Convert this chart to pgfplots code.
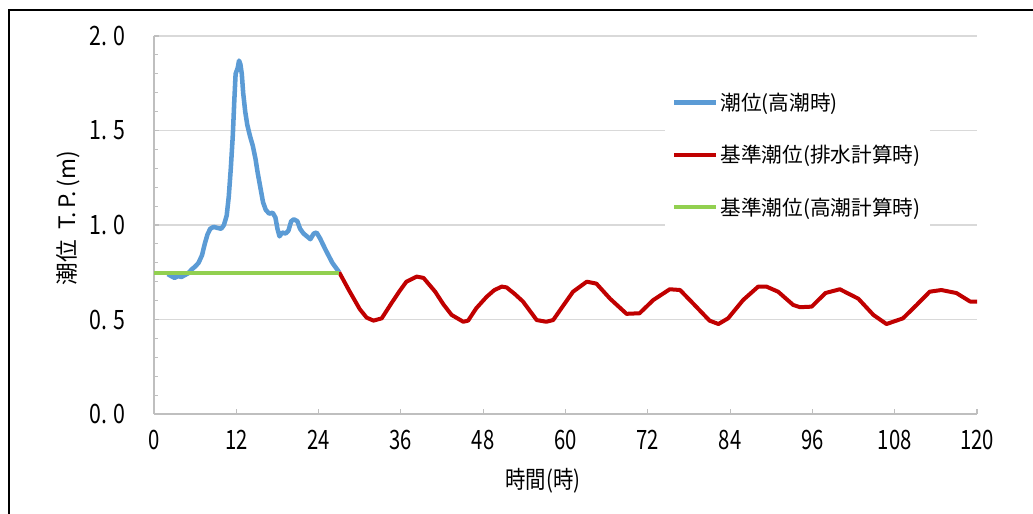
\documentclass[border=0pt]{standalone}
\usepackage{fontspec}
\setmainfont{Noto Sans CJK JP}
\usepackage{pgfplots}
\pgfplotsset{compat=1.18}
\definecolor{cblue}{RGB}{91,155,213}
\definecolor{cred}{RGB}{192,0,0}
\definecolor{cgreen}{RGB}{146,208,80}
\definecolor{gridc}{RGB}{217,217,217}
\definecolor{axc}{RGB}{191,191,191}
\begin{document}
\begin{tikzpicture}
\useasboundingbox (0pt,0pt) rectangle (774.75pt,385.5pt);
\draw[line width=1.5pt] (6.75pt,-2pt) -- (6.75pt,378pt) -- (777pt,378pt);
\begin{axis}[
  at={(115.5pt,75pt)}, anchor=south west,
  scale only axis, width=617.25pt, height=283.5pt,
  xmin=0, xmax=120, ymin=0, ymax=2,
  axis lines*=left,
  axis line style={draw=axc, line width=0.9pt, -},
  tick align=inside,
  major tick length=4pt, minor tick length=3pt,
  tick style={draw=axc, line width=0.8pt},
  xtick={0,12,...,120},
  xticklabels={0,12,24,36,48,60,72,84,96,108,120},
  ytick={0,0.5,1,1.5,2},
  yticklabels={0. 0,0. 5,1. 0,1. 5,2. 0},
  minor ytick={0.1,0.2,0.3,0.4,0.6,0.7,0.8,0.9,1.1,1.2,1.3,1.4,1.6,1.7,1.8,1.9},
  ymajorgrids,
  major grid style={draw=gridc, line width=1pt},
  xticklabel style={font=\fontsize{20}{20}\selectfont, xscale=0.76, yshift=-8.2pt},
  yticklabel style={font=\fontsize{20}{20}\selectfont, xscale=0.8, xshift=-23pt},
  legend style={at={(0.621,0.889)}, anchor=north west, draw=none, fill=white,
    font=\fontsize{15.5}{18}\selectfont, row sep=20.75pt, inner xsep=5pt, inner ysep=9pt},
  legend cell align=left,
  legend image code/.code={\draw[#1] (0pt,0pt) -- (31pt,0pt);},
  clip=false,
]
\addplot[cblue, line width=3.4pt, line join=round] coordinates {
(2.0,0.74)(2.5,0.73)(3.0,0.72)(3.5,0.73)(4.0,0.725)(4.5,0.735)(5.0,0.745)(5.5,0.765)
(6.0,0.78)(6.5,0.80)(7.0,0.84)(7.4,0.90)(7.8,0.95)(8.2,0.98)(8.7,0.99)(9.2,0.985)
(9.8,0.98)(10.2,1.00)(10.6,1.05)(10.9,1.15)(11.2,1.30)(11.5,1.48)(11.7,1.65)(11.9,1.80)
(12.2,1.83)(12.4,1.87)(12.6,1.85)(12.8,1.80)(13.0,1.70)(13.3,1.60)(13.6,1.53)(14.0,1.47)
(14.4,1.42)(14.8,1.35)(15.1,1.28)(15.5,1.20)(15.9,1.12)(16.3,1.08)(16.8,1.06)(17.3,1.065)
(17.7,1.04)(18.0,0.98)(18.3,0.94)(18.7,0.96)(19.2,0.955)(19.6,0.97)(20.0,1.02)(20.4,1.03)
(20.9,1.02)(21.3,0.98)(21.8,0.955)(22.3,0.94)(22.8,0.925)(23.3,0.955)(23.7,0.96)(24.2,0.93)
(25.0,0.87)(26.0,0.80)(27.0,0.75)
};
\addlegendentry{潮位(高潮時)}
\addplot[cred, line width=3pt, line join=round] coordinates {
(27,0.75)(28.5,0.65)(30,0.555)(31,0.51)(32,0.494)(33.2,0.506)(34.6,0.585)(35.8,0.65)
(36.8,0.70)(38.3,0.727)(39.3,0.72)(41,0.647)(42.2,0.58)(43.4,0.524)(45.1,0.488)(45.8,0.494)
(47,0.56)(48.5,0.62)(49.6,0.655)(50.7,0.674)(51.4,0.67)(52.6,0.635)(53.8,0.595)(55.8,0.497)
(57.2,0.488)(58.2,0.497)(59.7,0.575)(61.1,0.647)(63.1,0.70)(64.5,0.69)(66.5,0.61)(68.9,0.53)
(70.8,0.533)(72.8,0.603)(75.2,0.66)(76.7,0.656)(78.6,0.585)(81,0.494)(82.3,0.476)(83.7,0.506)
(85.9,0.603)(88.1,0.674)(89.3,0.674)(91,0.647)(93.2,0.577)(94.2,0.565)(95.9,0.568)(97.9,0.64)
(100,0.66)(102.7,0.61)(104.9,0.524)(106.8,0.476)(109.2,0.506)(111.2,0.577)(113.1,0.647)
(114.8,0.656)(117,0.64)(119,0.595)(120,0.595)
};
\addlegendentry{基準潮位(排水計算時)}
\addplot[cgreen, line width=3pt] coordinates {(0,0.745)(27,0.745)};
\addlegendentry{基準潮位(高潮計算時)}
\end{axis}
\node[rotate=90, font=\fontsize{17}{17}\selectfont] at (51pt,222pt) {潮位\ \ T.\,P.\,(m)};
\node[font=\fontsize{18}{18}\selectfont, xscale=0.85] at (407.25pt,24.75pt) {時間(時)};
\end{tikzpicture}
\end{document}
